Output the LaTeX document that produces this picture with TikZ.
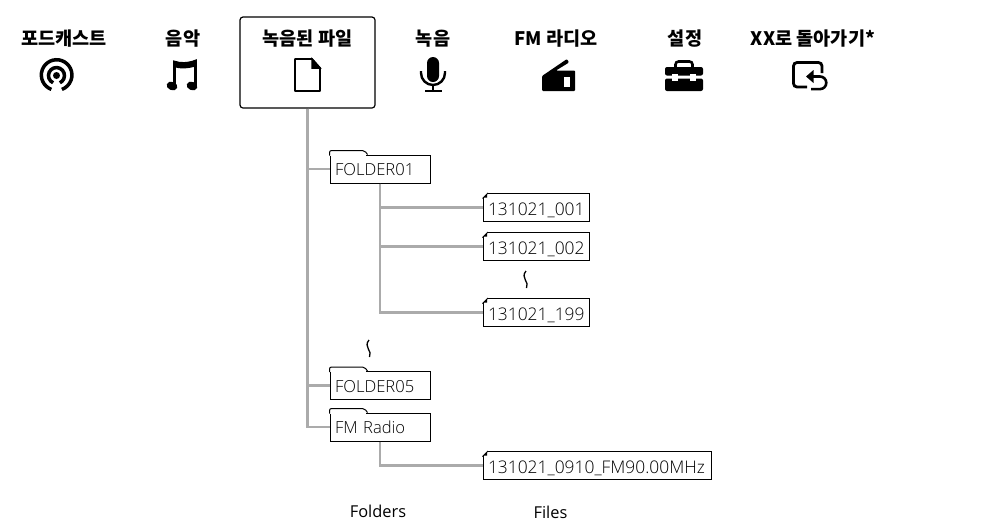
\documentclass[tikz,border=0pt]{standalone}
\usepackage{fontspec}
\setmainfont{Open Sans}
\newfontfamily\lightfont{Open Sans Light}
\newfontfamily\krfont{Noto Sans CJK KR}
\tikzset{
		heading/.style={font=\krfont\bfseries\fontsize{18.6}{20}\selectfont,inner sep=0pt,anchor=base},
		selbox/.style={draw,rounded corners=3pt,line width=1.2pt,minimum width=135pt,minimum height=91pt,inner sep=0pt},
		tree/.style={draw=black!33,line width=2.1pt},
		entry/.style={draw,fill=white,line width=1pt,inner sep=0pt,inner xsep=5pt,minimum height=28pt,align=left},
		foldernode/.style={entry,text width=90pt,text height=13.5pt,text depth=.5pt,font=\lightfont\fontsize{16.6}{18}\selectfont},
		filenode/.style={entry,text width=#1,text height=17pt,text depth=.6pt,font=\lightfont\fontsize{17.4}{18}\selectfont},
		filenode/.default=96pt,
		edge line/.style={line width=1pt},
		gapmark/.style={line width=1.3pt},
		caption/.style={font=\fontsize{16.4}{18}\selectfont,inner sep=0pt}
	}
\begin{document}
\begin{tikzpicture}[x=1pt,y=-1pt]
	\useasboundingbox (0,0) rectangle (982,523);
	% top row
	\node[heading] (podcast) at (64,45.5) {포드캐스트};
	\node[heading] (music) at (183,45.5) {음악};
	\node[selbox] (recbox) at (307.5,62.5) {};
	\node[heading] (recfiles) at (307.5,45.5) {녹음된 파일};
	\node[heading] (record) at (433,45.5) {녹음};
	\node[heading] (radio) at (556,45.5) {FM 라디오};
	\node[heading] (setup) at (685,45.5) {설정};
	\node[heading] (goback) at (813,45.5) {XX로 돌아가기*};
	% icons
	\draw[line width=3.5pt] (51.4,89.4) arc (110:430:15.3);
	\draw[line width=3.5pt] (53.1,82.8) arc (115:425:8);
	\fill (56.5,75.5) circle (3.5);
	\draw[line width=2.6pt] (174.5,85) -- (174.5,62) .. controls (180,64) and (188,64) .. (195.5,61) -- (195.5,85);
	\fill (173.5,61) .. controls (180,63) and (188,63) .. (196.8,60) -- (196.8,66) .. controls (188,69) and (180,69) .. (173.5,67) -- cycle;
	\fill[rotate around={-20:(172,86)}] (172,86) ellipse (5.5 and 4.2);
	\fill[rotate around={-20:(192,86)}] (192,86) ellipse (5.5 and 4.2);
	\draw[line width=1.8pt,line join=round] (295,59) -- (312,59) -- (320,68) -- (320,91) -- (295,91) -- cycle;
	\draw[line width=1.5pt,fill=black] (312,59) -- (312,68) -- (320,68) -- cycle;
	\fill[rounded corners=6pt] (427,57) rectangle (439,82);
	\draw[line width=2.4pt] (421,71) -- (421,73) arc (180:0:12) -- (445,71);
	\draw[line width=2.4pt] (433,85) -- (433,91);
	\draw[line width=2.4pt] (425,91) -- (442,91);
	\fill[rounded corners=1pt] (542,91) -- (542,76) -- (567,59) -- (569,62.5) -- (556,70.5) -- (575,70.5) -- (575,91) -- cycle;
	\fill[white] (564,77) rectangle (570,87);
	\draw[line width=2.6pt,rounded corners=3pt] (675.5,69) -- (675.5,61.5) -- (692.5,61.5) -- (692.5,69);
	\fill[rounded corners=2pt] (665,75.5) -- (665,67) -- (703,67) -- (703,75.5) -- cycle;
	\fill[rounded corners=2pt] (665,78.5) -- (665,91) -- (703,91) -- (703,78.5) -- cycle;
	\fill[white] (672,73.5) rectangle (678,80.5);
	\fill[white] (690,73.5) rectangle (696,80.5);
	\draw[line width=2.8pt,rounded corners=3.5pt] (822,73) -- (822,62.5) -- (793.5,62.5) -- (793.5,87) -- (807,87);
	\draw[line width=2.6pt] (813,76.5) -- (820,76.5) arc (-90:90:6.3) -- (811,89.1);
	\fill (806,76.5) -- (813.5,70) -- (813.5,83) -- cycle;
	% folders and files
	\node[foldernode] (folderone) at (380,169) {FOLDER01};
	\node[foldernode] (folderfive) at (380,385.5) {FOLDER05};
	\node[foldernode] (folderfm) at (380,427) {FM Radio};
	\node[filenode] (fileone) at (536,207.5) {131021\_001};
	\node[filenode] (filetwo) at (536,246.5) {131021\_002};
	\node[filenode] (filelast) at (536,312.5) {131021\_199};
	\node[filenode=218pt] (filefm) at (597,465.5) {131021\_0910\_FM90.00MHz};
	% tabs and corners
	\foreach \n in {folderone,folderfive,folderfm}{
		\fill[white] (\n.north west) ++(.5,-3) rectangle ++(36,4);
		\draw[edge line,rounded corners=2pt] (\n.north west) ++(0,1) -- ++(0,-5) -- ++(35,0) [sharp corners] -- ++(3,4);
	}
	\foreach \n in {fileone,filetwo,filelast,filefm}{
		\fill[white] (\n.north west) ++(-1,-1) -- ++(7.5,0) -- ++(-7.5,7.5) -- cycle;
		\draw[edge line] (\n.north west) ++(0,5.5) -- ++(5.5,-5.5);
		\fill (\n.north west) ++(1,4.5) -- ++(3.5,-3.5) -- ++(0,3.5) -- cycle;
	}
	\draw[tree] (recbox.south) |- (folderone.west);
	\draw[tree] (recbox.south) |- (folderfive.west);
	\draw[tree] (recbox.south) |- (folderfm.west);
	\draw[tree] (folderone.south) |- (fileone.west);
	\draw[tree] (folderone.south) |- (filetwo.west);
	\draw[tree] (folderone.south) |- (filelast.west);
	\draw[tree] (folderfm.south) |- (filefm.west);
	% gaps in the lists
	\draw[gapmark] (526,271) .. controls (520,278) and (530,282) .. (526.5,288);
	\draw[gapmark] (369,340) .. controls (363,347) and (373,351) .. (369.5,357);
	% captions
	\node[caption] (folderscap) at (378,511) {Folders};
	\node[caption] (filescap) at (550.5,512) {Files};
\end{tikzpicture}
\end{document}
